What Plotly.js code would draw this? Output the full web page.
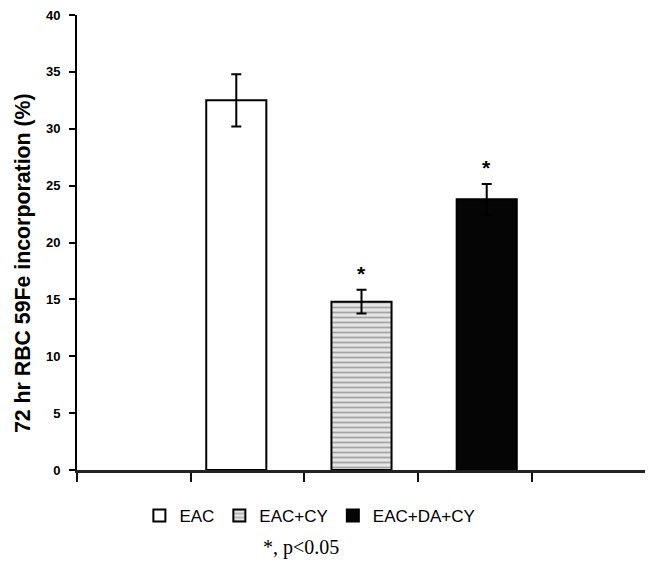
<!DOCTYPE html>
<html>
<head>
<meta charset="utf-8">
<script src="https://cdn.plot.ly/plotly-3.0.1.min.js"></script>
<style>html,body{margin:0;padding:0;background:#fff;}#chart{width:654px;height:568px;}</style>
</head>
<body>
<div id="chart"></div>
<script>
// Data
const categories = ['EAC', 'EAC+CY', 'EAC+DA+CY'];
const means = [32.5, 14.8, 23.8];
const errors = [2.3, 1.05, 1.35];
const significant = [false, true, true];
const yTickVals = [0, 5, 10, 15, 20, 25, 30, 35, 40];
const footnote = '*, p<0.05';
const yTitle = '72 hr RBC 59Fe incorporation (%)';

const fills = [
  {color: '#ffffff'},
  {color: '#e4e4e4', pattern: {shape: '-', fgcolor: '#a3a3a3', bgcolor: '#e6e6e6', size: 5, solidity: 0.35}},
  {color: '#050505'}
];

const traces = categories.map((c, i) => ({
  type: 'bar',
  name: c,
  x: [i],
  y: [means[i]],
  width: 0.48,
  marker: Object.assign({line: {color: '#000', width: 2}}, fills[i]),
  error_y: {type: 'data', array: [errors[i]], visible: true, color: '#000', thickness: 2, width: 5},
  hoverinfo: 'skip'
}));

const annotations = [];
categories.forEach((c, i) => {
  if (significant[i]) {
    annotations.push({
      x: i, y: means[i] + errors[i], xref: 'x', yref: 'y',
      text: '<b>*</b>', showarrow: false, yanchor: 'middle', yshift: 16,
      font: {family: 'Liberation Sans, Arial, sans-serif', size: 21, color: '#000'}
    });
  }
});
annotations.push({
  x: -0.095, y: 0.455, xref: 'paper', yref: 'paper', textangle: -90,
  text: yTitle, showarrow: false, xanchor: 'center', yanchor: 'middle',
  font: {family: 'Liberation Sans Narrow, Arial Narrow, Liberation Sans, sans-serif', size: 21.3, color: '#000', weight: 'bold'}
});
annotations.push({
  x: 0.395, y: -0.171, xref: 'paper', yref: 'paper',
  text: footnote, showarrow: false, xanchor: 'center', yanchor: 'middle',
  font: {family: 'Liberation Serif, Times New Roman, serif', size: 20, color: '#000'}
});

const layout = {
  width: 654, height: 568,
  margin: {l: 77, r: 9, t: 15, b: 98},
  paper_bgcolor: '#fff', plot_bgcolor: '#fff',
  barmode: 'overlay',
  showlegend: true,
  legend: {
    orientation: 'h', x: 0.41, xanchor: 'center', y: -0.101, yanchor: 'middle',
    font: {family: 'Liberation Sans, Arial, sans-serif', size: 17, color: '#000'},
    itemwidth: 30, traceorder: 'normal'
  },
  xaxis: {
    type: 'linear', range: [-1.272, 3.264], tickmode: 'linear', tick0: -1.27, dtick: 0.907,
    ticks: 'outside', ticklen: 9, tickwidth: 2, tickcolor: '#111',
    showticklabels: false, showgrid: false, zeroline: false,
    showline: true, linewidth: 3, linecolor: '#222'
  },
  yaxis: {
    range: [0, 40], tickmode: 'array', tickvals: yTickVals,
    ticks: 'outside', ticklen: 6, tickwidth: 2, tickcolor: '#000',
    ticklabelstandoff: 6,
    tickfont: {family: 'Liberation Sans, Arial, sans-serif', size: 13, color: '#000', weight: 'bold'},
    showgrid: false, zeroline: false, showline: true, linewidth: 2, linecolor: '#000'
  },
  annotations: annotations
};

Plotly.newPlot('chart', traces, layout, {displayModeBar: false, staticPlot: true});
</script>
</body>
</html>
